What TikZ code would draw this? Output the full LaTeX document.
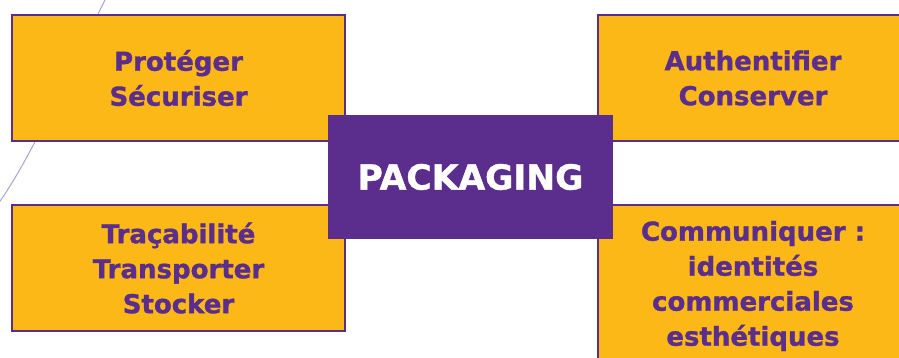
\documentclass[tikz,border=0pt]{standalone}
\usepackage{fontspec}
\setmainfont{DejaVu Sans}[BoldFeatures={FakeBold=1.2}]
\definecolor{orangebox}{HTML}{FBB817}
\definecolor{purplec}{HTML}{5B2E8E}
\definecolor{lavender}{HTML}{A9A3D6}
\tikzset{
  sidebox/.style={draw=purplec, line width=2.5pt, fill=orangebox, text=purplec,
    align=center, inner sep=0pt, font=\bfseries\fontsize{26}{35}\selectfont},
  hubbox/.style={fill=purplec, text=white, inner sep=0pt,
    font=\bfseries\fontsize{34.5}{40}\selectfont},
  arcline/.style={draw=lavender, line width=1pt}
}
\begin{document}
\begin{tikzpicture}[x=1pt,y=-1pt]
\clip (0,0) rectangle (899,357);
\fill[white] (0,0) rectangle (899,357);
\coordinate (a1) at (106,-2);
\coordinate (a2) at (-2,204);
\draw[arcline] (a1) .. controls (70,70) and (30,160) .. (a2);
\node[sidebox, minimum width=333pt, minimum height=126pt] (tl) at (178.5,78) {Protéger\\Sécuriser};
\node[sidebox, minimum width=333pt, minimum height=126pt] (bl) at (178.5,268) {Traçabilité\\Transporter\\Stocker};
\node[sidebox, minimum width=310pt, minimum height=126pt] (tr) at (753,78) {Authentifier\\Conserver};
\node[sidebox, minimum width=310pt, minimum height=162pt] (br) at (753,286) {Communiquer :\\identités\\commerciales\\esthétiques};
\node[hubbox, minimum width=285pt, minimum height=124pt] (hub) at (470.5,177) {PACKAGING};
\end{tikzpicture}
\end{document}
